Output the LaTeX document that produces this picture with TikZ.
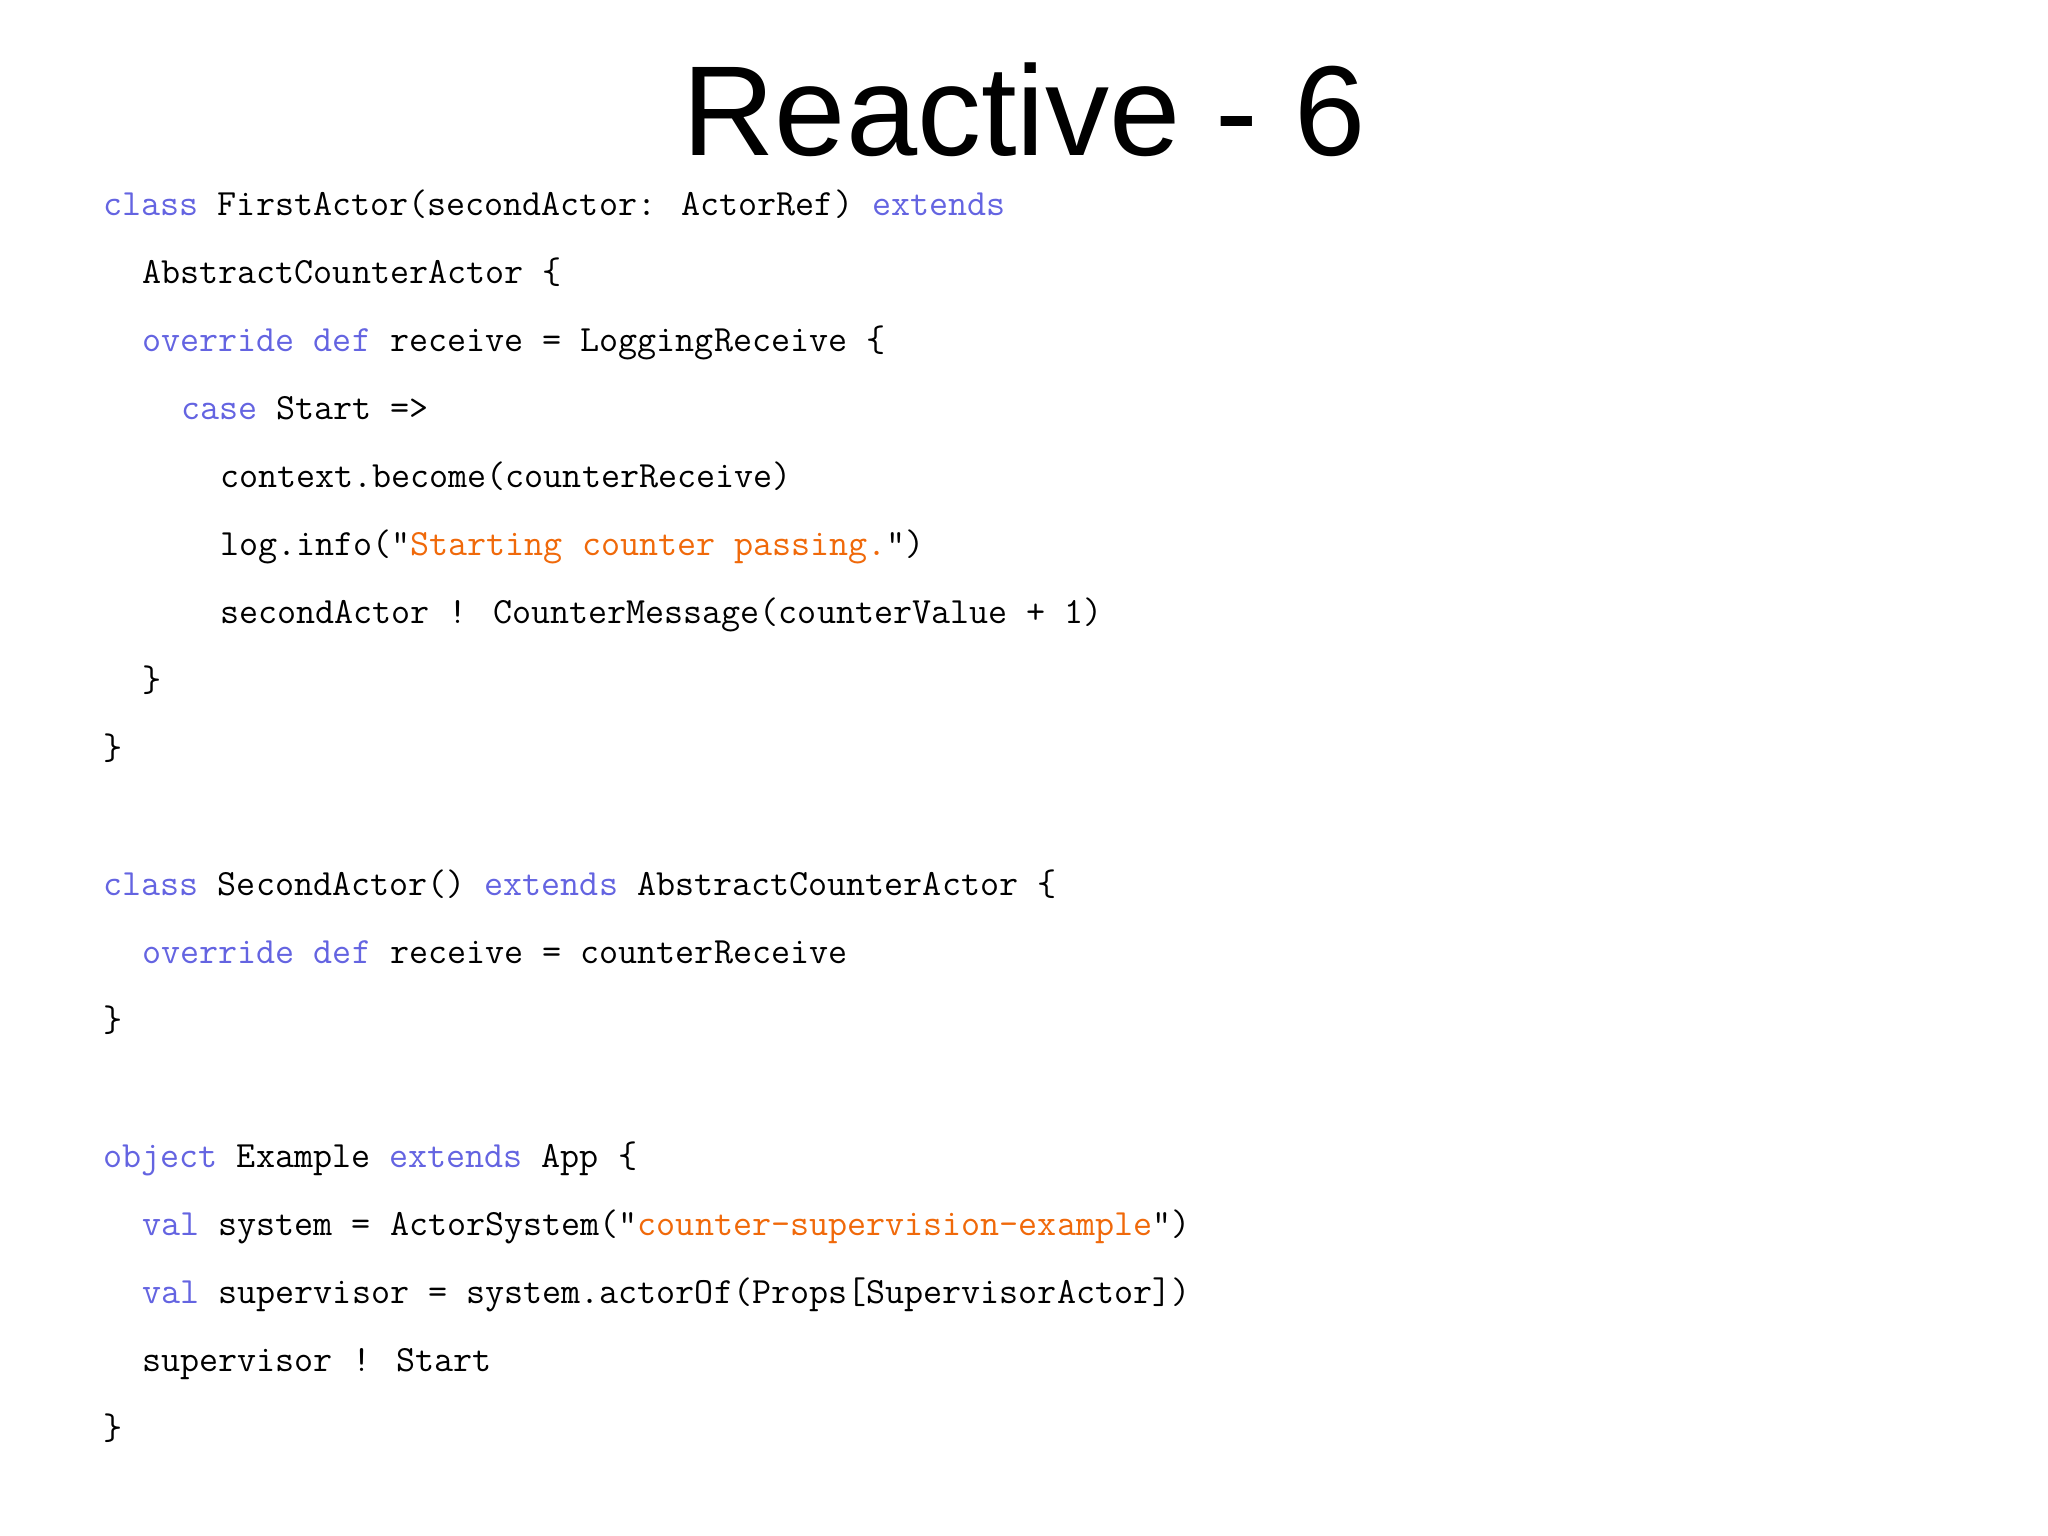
\documentclass[tikz,border=0pt]{standalone}
\usepackage{fontspec}
\newfontfamily\titlefont{Liberation Sans}
\definecolor{kw}{RGB}{100,100,225}
\definecolor{str}{RGB}{240,105,10}
\newcommand{\kw}[1]{\textcolor{kw}{#1}}
\newcommand{\str}[1]{\textcolor{str}{#1}}
\tikzset{codeline/.style={anchor=base west,inner sep=0pt,font=\fontsize{18.5}{20}\ttfamily}}
\begin{document}
\begin{tikzpicture}[x=1pt,y=1pt]
\useasboundingbox (0,0) rectangle (1024,-767.5);
\node[anchor=base,inner sep=0pt,font=\titlefont\fontsize{64}{70}\selectfont] (title) at (512,-78) {Reactive - 6};
\def\L#1#2#3{\node[codeline] (l#1) at (51.6+19.4*#2,-107.7-34*#1) {#3};}
\L{0}{0}{\kw{class} FirstActor(secondActor: ActorRef) \kw{extends}}
\L{1}{1}{AbstractCounterActor \{}
\L{2}{1}{\kw{override} \kw{def} receive = LoggingReceive \{}
\L{3}{2}{\kw{case} Start =>}
\L{4}{3}{context.become(counterReceive)}
\L{5}{3}{log.info("\str{Starting counter passing.}")}
\L{6}{3}{secondActor ! CounterMessage(counterValue + 1)}
\L{7}{1}{\}}
\L{8}{0}{\}}
\L{10}{0}{\kw{class} SecondActor() \kw{extends} AbstractCounterActor \{}
\L{11}{1}{\kw{override} \kw{def} receive = counterReceive}
\L{12}{0}{\}}
\L{14}{0}{\kw{object} Example \kw{extends} App \{}
\L{15}{1}{\kw{val} system = ActorSystem("\str{counter-supervision-example}")}
\L{16}{1}{\kw{val} supervisor = system.actorOf(Props[SupervisorActor])}
\L{17}{1}{supervisor ! Start}
\L{18}{0}{\}}
\end{tikzpicture}
\end{document}
